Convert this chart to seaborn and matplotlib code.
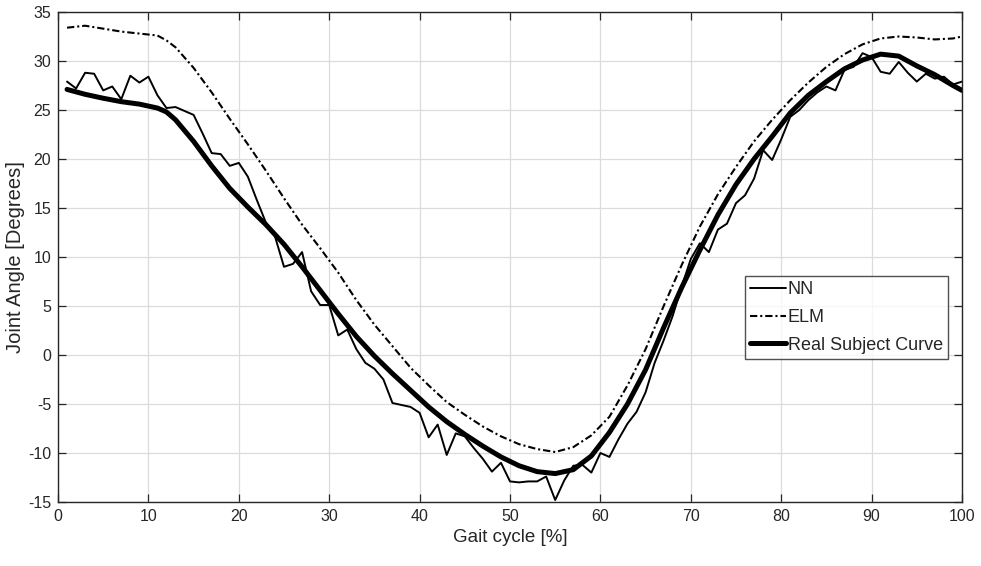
import numpy as np
import pandas as pd
import matplotlib
matplotlib.use("Agg")
import matplotlib.pyplot as plt
import seaborn as sns

# ---------------- data ----------------
nn_x = list(range(1, 101))
nn_y = [27.9, 27.2, 28.8, 28.7, 27.0, 27.4, 26.1, 28.5, 27.8, 28.4,
        26.5, 25.2, 25.3, 24.9, 24.5, 22.6, 20.6, 20.5, 19.3, 19.6,
        18.2, 15.8, 13.5, 12.1, 9.0, 9.3, 10.5, 6.5, 5.1, 5.1,
        2.0, 2.6, 0.6, -0.8, -1.4, -2.5, -4.9, -5.1, -5.3, -5.9,
        -8.4, -7.1, -10.2, -8.0, -8.3, -9.5, -10.6, -11.9, -11.0, -12.9,
        -13.0, -12.9, -12.9, -12.4, -14.8, -12.8, -11.3, -11.2, -12.0, -10.0,
        -10.4, -8.6, -7.0, -5.8, -3.8, -0.8, 1.5, 4.0, 7.0, 9.8,
        11.4, 10.5, 12.8, 13.4, 15.5, 16.3, 18.0, 20.9, 19.9, 22.0,
        24.3, 25.0, 26.0, 26.8, 27.4, 27.0, 29.1, 29.4, 30.8, 30.4,
        28.9, 28.7, 29.9, 28.8, 27.9, 28.7, 28.2, 28.4, 27.6, 27.9]

smooth_x = [1, 3, 5, 7, 9, 11, 12, 13, 15, 17, 19, 21, 23, 25, 27, 29, 31, 33,
            35, 37, 39, 41, 43, 45, 47, 49, 51, 53, 55, 57, 59, 61, 63, 65,
            67, 69, 71, 73, 75, 77, 79, 81, 83, 85, 87, 89, 91, 93, 95, 97,
            99, 100]

elm_y = [33.4, 33.6, 33.3, 33.0, 32.8, 32.6, 32.1, 31.4, 29.3, 26.8, 24.1,
         21.5, 18.8, 16.0, 13.3, 10.9, 8.4, 5.6, 3.1, 0.9, -1.3,
         -3.1, -4.8, -6.1, -7.3, -8.3, -9.1, -9.6, -9.9, -9.4, -8.2,
         -6.3, -3.1, 0.6, 5.0, 9.2, 13.1, 16.4, 19.2, 21.8, 24.0,
         26.0, 27.8, 29.4, 30.7, 31.7, 32.3, 32.5, 32.4, 32.2, 32.3,
         32.5]

real_y = [27.1, 26.6, 26.2, 25.85, 25.6, 25.2, 24.8, 24.0, 21.8, 19.3, 17.0,
          15.1, 13.3, 11.3, 9.0, 6.6, 4.2, 1.9, -0.1, -1.9, -3.6,
          -5.3, -6.8, -8.1, -9.3, -10.4, -11.3, -11.9, -12.1, -11.7, -10.3,
          -7.9, -5.0, -1.5, 2.8, 6.9, 10.7, 14.3, 17.4, 20.0, 22.3,
          24.7, 26.5, 27.9, 29.2, 30.1, 30.7, 30.5, 29.5, 28.6, 27.5,
          27.0]

x_ticks = [0, 10, 20, 30, 40, 50, 60, 70, 80, 90, 100]
y_ticks = [-15, -10, -5, 0, 5, 10, 15, 20, 25, 30, 35]
x_label = "Gait cycle [%]"
y_label = "Joint Angle [Degrees]"
labels = ["NN", "ELM", "Real Subject Curve"]

# ---------------- style ----------------
sns.set_theme(style="white")
plt.rcParams["font.family"] = ["Liberation Sans", "DejaVu Sans"]
plt.rcParams["axes.unicode_minus"] = False
plt.rcParams["xtick.direction"] = "in"
plt.rcParams["ytick.direction"] = "in"

fig = plt.figure(figsize=(9.81, 5.66), dpi=100)
ax = fig.add_axes([58 / 981, 1 - 502 / 566, (962 - 58) / 981, (502 - 12) / 566])

df_nn = pd.DataFrame({"x": nn_x, "y": nn_y})
df_elm = pd.DataFrame({"x": smooth_x, "y": elm_y})
df_real = pd.DataFrame({"x": smooth_x, "y": real_y})

sns.lineplot(data=df_nn, x="x", y="y", ax=ax, color="black", linewidth=1.4,
             label=labels[0])
sns.lineplot(data=df_elm, x="x", y="y", ax=ax, color="black", linewidth=1.5,
             dashes=False, label=labels[1])
ax.lines[-1].set_dashes([3.5, 1.4, 1.0, 1.4])
sns.lineplot(data=df_real, x="x", y="y", ax=ax, color="black", linewidth=3.6,
             label=labels[2])

ax.set_xlim(0, 100)
ax.set_ylim(-15, 35)
ax.set_xticks(x_ticks)
ax.set_yticks(y_ticks)
ax.grid(True, color="#dcdcdc", linewidth=0.9)
ax.set_axisbelow(True)
for s in ax.spines.values():
    s.set_color("#262626")
    s.set_linewidth(1.0)
    s.set_visible(True)
ax.tick_params(axis="both", which="both", direction="in", length=6, width=0.9,
               color="#262626", labelsize=11.5, labelcolor="#262626",
               top=True, right=True, bottom=True, left=True, pad=5)
ax.set_xlabel(x_label, fontsize=13.5, color="#262626", labelpad=4)
ax.set_ylabel(y_label, fontsize=14.5, color="#262626", labelpad=2)

leg = ax.legend(loc="upper right", bbox_to_anchor=(0.985, 0.462),
                frameon=True, fancybox=False, fontsize=13,
                handlelength=2.0, handletextpad=0.1, borderpad=0.3,
                labelspacing=0.6, borderaxespad=0.0)
leg.get_frame().set_edgecolor("#262626")
leg.get_frame().set_linewidth(1.0)
for h in leg.get_lines():
    h.set_color("black")
leg.get_lines()[1].set_dashes([3.5, 1.4, 1.0, 1.4])

fig.savefig("out.png", dpi=100, facecolor="white")
